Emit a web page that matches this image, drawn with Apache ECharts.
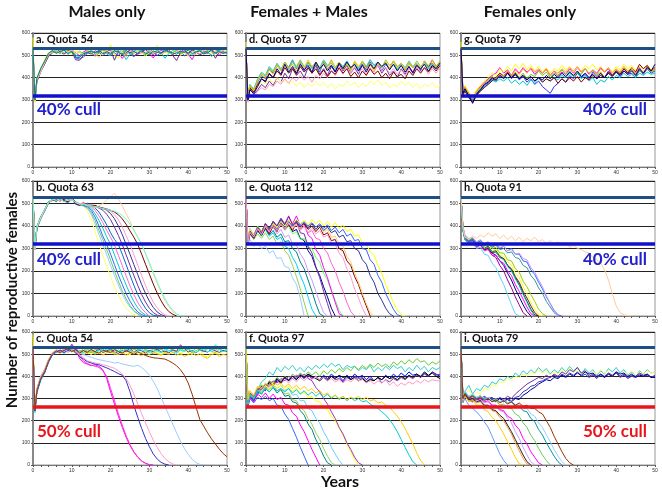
<!DOCTYPE html>
<html>
<head>
<meta charset="utf-8">
<script src="https://cdn.jsdelivr.net/npm/echarts@6/dist/echarts.min.js"></script>
<style>html,body{margin:0;padding:0;background:#fff;}#c{width:662px;height:490px;}</style>
</head>
<body>
<div id="c"></div>
<script>
const years = [0,0.5,1,2,3,4,5,6,7,8,9,10,11,12,13,14,15,16,17,18,19,20,21,22,23,24,25,26,27,28,29,30,31,32,33,34,35,36,37,38,39,40,41,42,43,44,45,46,47,48,49,50];
const xTicks = [0,10,20,30,40,50];
const yTicks = [0,100,200,300,400,500,600];
const columnTitles = ['Males only','Females + Males','Females only'];
const panelLabels = ['a. Quota 54','b. Quota 63','c. Quota 54','d. Quota 97','e. Quota 112','f. Quota 97','g. Quota 79','h. Quota 91','i. Quota 79'];
const upperLevel = 530;
const cullLevels = [319,319,263,319,319,263,319,319,263];
const cullTexts = ['40% cull','40% cull','50% cull','','','','40% cull','40% cull','50% cull'];
const yTitle = 'Number of reproductive females';
const xTitle = 'Years';

const seriesA = [
[530,300,395,435,470,505,515,522,510,526,514,530,488,484,492,508,521,506,518,511,524,536,510,500,516,523,507,494,512,521,504,526,516,500,511,529,518,504,513,521,497,510,526,514,507,521,512,504,519,523,509,515],
[530,295,385,425,462,500,520,512,528,506,519,524,511,498,515,526,509,500,517,530,512,503,522,515,486,510,527,518,505,514,531,509,488,516,524,511,519,502,521,515,528,506,481,511,522,517,509,526,513,500,518,512],
[580,290,400,440,478,512,508,524,515,531,518,505,520,512,498,519,527,510,505,522,514,548,500,488,509,520,516,503,525,512,497,510,521,545,506,515,508,522,517,499,512,527,510,504,520,540,514,505,519,510,524,513],
[530,305,392,438,470,498,514,520,506,525,512,520,500,495,510,515,523,508,512,526,505,498,516,522,510,481,505,519,527,512,503,518,510,525,513,487,508,521,515,506,522,512,500,516,527,509,518,495,511,522,515,508],
[530,298,380,430,460,495,510,528,515,505,522,516,480,478,500,512,506,520,514,498,517,525,478,519,503,511,522,496,508,517,525,511,504,520,509,515,527,500,476,512,519,508,523,515,502,511,520,526,487,515,520,509],
[530,302,388,432,466,503,519,511,522,508,527,513,505,518,509,520,512,496,510,524,517,506,521,511,527,502,515,509,520,514,506,523,511,517,504,520,513,509,525,510,516,503,519,512,521,507,524,515,510,518,512,520],
[530,296,390,428,468,507,512,526,509,520,515,523,508,513,504,517,525,510,489,515,520,512,527,508,516,493,519,511,522,507,514,526,509,518,505,513,520,508,517,523,511,496,518,514,509,520,527,513,498,516,521,511],
[530,300,398,442,474,510,522,509,517,524,505,518,492,490,506,514,519,511,523,507,516,509,520,513,505,521,512,517,508,524,510,503,519,514,508,522,516,511,505,519,513,524,508,515,520,506,512,523,510,517,509,514]
];
const colorsA = ['#3366ff','#ff00ff','#ffff00','#00cccc','#7030a0','#66cc33','#ffcc99','#008080'];

const seriesB = [
[530,300,395,440,472,508,518,512,525,515,508,530,505,498,490,465,430,375,320,270,220,175,130,92,60,35,18,7,0],
[530,296,390,436,468,504,520,510,522,514,506,518,500,495,488,478,452,410,362,318,272,225,180,138,98,65,40,20,8,0],
[530,302,398,442,470,506,515,521,509,524,512,516,502,497,490,482,460,425,380,340,295,248,200,155,112,76,46,24,10,0],
[530,298,392,438,466,502,522,514,519,510,504,520,498,500,492,486,470,440,400,355,318,275,228,182,140,100,66,38,18,6,0],
[530,300,385,430,465,500,517,508,526,513,509,522,505,496,499,490,478,455,425,390,352,318,272,226,180,138,98,64,36,16,5,0],
[530,294,388,434,470,506,519,512,520,508,515,528,503,495,502,492,485,470,445,415,380,350,315,270,224,178,134,95,60,34,15,0],
[530,301,396,441,473,509,514,518,511,523,507,519,496,491,500,495,488,480,462,435,405,370,340,318,275,228,182,136,96,62,34,14,3,0],
[530,299,390,437,469,505,516,524,513,520,510,526,500,494,503,497,490,486,480,470,452,428,395,358,318,272,226,180,136,96,62,34,15,4,0],
[530,303,394,439,471,507,513,519,527,511,516,521,507,499,493,501,495,488,485,478,470,455,432,400,362,318,274,228,184,140,100,66,38,18,6,0],
[530,297,389,435,467,503,521,515,510,524,509,517,503,498,506,490,497,489,482,479,472,465,450,428,396,358,318,272,226,180,136,96,62,36,17,6,0],
[530,300,392,440,470,506,517,511,523,516,508,522,501,493,500,495,488,492,484,480,476,470,462,450,432,408,378,350,318,275,230,186,142,102,68,40,20,8,0],
[530,298,393,437,471,505,515,522,510,526,512,520,504,496,500,492,487,480,490,500,515,530,545,520,490,455,420,385,350,318,275,232,188,145,105,70,42,20,7,0],
[530,301,396,441,474,508,518,513,521,509,517,515,506,500,494,497,490,486,483,478,475,470,466,458,446,430,408,380,350,318,278,236,194,152,112,78,48,26,10,2,0]
];
const colorsB = ['#ffff66','#99ccff','#66cc66','#3366ff','#00cccc','#ff66cc','#0066cc','#7030a0','#333399','#ff99cc','#800000','#ffcc99','#66ffcc'];

const seriesC = [
[530,240,330,392,420,468,500,512,506,520,515,525,510,518,505,522,512,500,516,524,509,518,527,511,504,520,515,530,512,506,521,514,500,518,526,510,515,522,508,519,512,524,505,516,520,511,528,513,507,522,515,519],
[590,255,340,398,428,472,503,509,518,506,522,512,525,504,515,510,498,512,520,505,516,509,500,514,522,508,497,511,518,503,515,509,520,506,498,512,504,518,511,500,514,507,498,512,521,493,488,505,512,498,516,508],
[530,262,345,402,432,476,506,520,511,524,513,530,518,510,525,514,506,522,517,509,526,515,520,511,529,518,507,523,514,532,519,510,526,515,522,508,530,517,512,525,516,521,509,527,518,512,524,533,519,528,514,522],
[530,248,335,388,415,466,498,515,508,521,512,545,520,509,516,505,519,511,524,507,515,522,510,503,518,512,526,508,520,515,505,517,511,523,509,514,506,519,513,542,525,510,517,506,520,514,509,522,515,508,517,512],
[530,235,325,380,418,462,496,508,515,503,519,510,526,512,507,521,514,506,518,509,523,516,505,519,512,527,510,503,517,522,511,508,520,514,506,523,517,510,504,519,512,525,514,508,518,522,510,516,543,520,511,518],
[530,250,338,395,425,470,502,511,504,517,508,519,503,512,498,507,515,500,510,496,506,513,502,498,509,495,504,511,500,493,506,498,510,502,495,505,499,508,496,503,490,498,507,494,502,488,481,497,505,490,499,494],
[530,245,332,390,422,467,499,513,507,519,511,520,535,480,462,455,448,452,445,430,390,330,275,220,170,125,88,58,35,18,8,2,0],
[530,252,340,394,426,470,503,510,518,506,522,540,515,490,470,458,450,446,440,425,400,345,290,232,180,132,92,60,36,18,7,0],
[530,258,342,400,430,474,505,516,510,522,514,526,512,498,484,470,465,460,458,452,448,442,436,425,410,390,360,320,275,232,190,150,112,80,52,30,14,5,0],
[530,244,330,386,418,465,497,510,519,508,516,524,505,490,478,466,460,455,452,445,438,430,422,412,405,380,330,268,215,165,120,82,50,27,12,4,0],
[530,250,336,393,424,469,500,512,506,520,510,523,515,505,498,492,486,480,475,472,468,465,460,462,456,452,448,445,450,440,425,405,378,345,305,265,225,185,145,108,75,48,26,11,3,0],
[530,246,334,391,421,468,501,514,508,517,524,512,520,505,516,509,522,511,504,518,513,507,520,512,505,515,509,498,510,502,494,488,484,482,480,478,470,460,448,430,405,370,320,262,205,175,145,118,95,72,52,37]
];
const colorsC = ['#33cccc','#ffff00','#99cc00','#7030a0','#00ffff','#ffc000','#ff00ff','#ff33cc','#ff99cc','#3333cc','#99ccff','#993300'];

const seriesD = [
[530,310,360,335,380,410,395,440,420,455,430,470,445,480,440,465,430,470,445,460,425,470,440,455,430,465,445,475,440,460,430,470,445,480,455,470,430,460,440,475,450,465,435,470,445,460,430,475,450,465,440,470],
[530,300,350,325,345,370,355,385,365,400,380,420,395,440,410,430,400,445,420,455,415,440,410,450,425,460,430,455,420,445,415,460,435,470,440,455,420,445,410,430,400,440,415,450,425,460,435,470,445,480,450,465],
[560,320,370,340,360,385,370,395,375,400,380,390,370,385,360,380,355,375,360,385,365,380,355,375,350,370,360,385,365,380,355,375,360,385,370,390,365,380,355,370,360,385,365,380,355,375,350,370,360,380,355,365],
[530,320,365,345,390,420,405,445,425,460,435,470,440,475,450,480,445,470,440,465,435,475,450,480,445,470,440,460,430,470,445,475,450,465,440,470,445,480,455,470,440,465,435,460,445,475,450,470,440,465,450,475],
[530,290,330,310,340,355,345,370,360,385,370,395,375,400,385,410,390,405,380,410,395,420,400,430,410,440,415,445,420,450,425,440,415,445,425,455,430,445,420,440,415,435,410,440,420,450,425,445,415,440,420,445],
[530,315,370,350,395,425,410,450,430,465,440,460,435,470,445,475,450,465,440,470,445,480,455,465,440,470,450,475,445,460,440,470,450,480,455,465,445,470,440,460,435,465,445,475,450,465,440,470,445,460,445,470],
[530,305,355,335,370,395,385,415,400,430,410,445,420,440,415,450,425,445,420,440,410,435,405,430,415,445,420,440,405,425,400,430,410,440,415,430,400,420,395,425,405,415,395,430,410,440,420,445,425,450,430,455],
[530,310,362,340,385,415,400,435,415,455,430,465,440,460,430,470,445,480,450,470,440,465,435,475,445,470,440,465,435,475,450,470,440,460,430,465,445,470,440,475,450,465,435,470,445,460,440,475,455,480,445,470],
[530,300,345,330,360,395,380,420,400,440,415,460,425,450,420,460,435,455,425,470,440,460,430,455,425,465,440,470,445,460,430,455,425,460,440,470,450,465,435,460,430,455,425,450,420,455,440,460,430,455,440,465]
];
const colorsD = ['#3366ff','#7030a0','#ffff66','#99cc00','#ff99cc','#33cccc','#800000','#ffc000','#000080'];

const seriesE = [
[530,320,340,310,325,300,310,280,290,255,260,220,215,170,140,80,0],
[530,330,370,340,365,345,370,340,355,320,330,290,270,225,175,120,60,0],
[530,335,380,350,375,360,385,355,370,340,350,310,300,260,230,180,140,85,30,0],
[530,325,365,345,380,355,390,360,380,350,365,330,335,300,285,240,210,160,110,55,10,0],
[530,340,390,360,395,370,400,375,395,365,385,350,360,320,315,275,250,200,160,110,60,15,0],
[530,330,375,355,390,365,405,380,410,385,420,390,410,375,385,345,335,290,265,215,180,130,85,35,0],
[530,335,385,360,400,375,410,385,415,390,410,380,400,365,375,340,345,305,300,260,240,190,160,110,70,25,0],
[530,325,370,350,385,365,395,370,405,380,410,385,420,395,415,385,400,370,380,345,340,300,280,235,200,150,110,60,20,0],
[530,330,380,360,395,370,410,385,420,395,430,405,440,410,445,400,410,360,345,295,270,215,170,115,60,10,0],
[530,320,365,345,380,360,390,365,400,375,410,385,405,380,415,390,410,385,400,375,395,360,370,335,340,300,290,245,225,175,140,90,45,0],
[530,335,375,355,390,370,400,380,410,385,415,390,420,395,410,390,415,395,410,385,400,370,385,350,355,320,310,265,240,190,150,100,55,15,0],
[530,330,380,355,395,375,410,390,420,400,430,405,425,400,420,395,415,390,410,385,405,380,395,370,380,350,360,330,335,300,290,250,230,180,150,100,70,35,10,0],
[530,325,370,350,385,365,400,380,405,385,415,395,420,400,425,405,420,400,415,395,410,390,405,380,395,370,385,355,365,335,340,300,295,250,230,180,150,100,65,30,5,0],
[530,340,385,360,395,375,405,385,410,395,420,400,425,405,430,410,425,405,430,410,425,400,420,395,415,390,405,375,385,355,360,325,320,285,270,225,190,140,100,60,25,5,0],
[530,330,375,355,395,370,410,385,420,400,435,410,445,405,420,370,365,310,280,220,170,110,55,0],
[530,328,372,352,388,362,398,375,402,380,408,382,412,388,405,380,398,372,390,365,380,350,360,325,320,280,260,210,175,120,80,35,0]
];
const colorsE = ['#99ccff','#92d050','#00ccff','#008080','#cc99ff','#000099','#66ff66','#ff66cc','#ff00ff','#800000','#ffcc66','#333399','#3366ff','#ffff00','#7030a0','#ff99cc'];

const seriesF = [
[530,280,320,300,340,375,390,420,405,440,420,445,430,450,425,440,420,445,430,450,435,455,440,460,445,455,430,450,440,445,425,440,430,450,420,440,425,445,430,450,435,445,420,440,425,450,430,445,420,440,430,440],
[530,300,330,310,345,360,350,380,370,395,380,400,385,410,395,415,400,420,405,420,400,425,410,430,415,435,420,440,425,445,430,450,435,455,440,460,445,455,440,465,450,470,455,475,460,480,465,470,450,465,455,470],
[530,270,310,290,320,345,335,365,355,380,370,395,380,400,385,405,390,410,395,400,385,405,390,410,395,400,380,405,390,410,395,405,385,400,380,395,385,405,390,410,395,415,400,420,405,410,395,415,400,420,410,400],
[530,275,315,300,330,350,345,370,360,385,375,395,385,400,390,410,395,405,390,400,385,395,380,400,385,390,375,395,385,400,390,395,375,390,380,395,370,385,375,390,380,395,385,400,390,405,395,410,400,420,405,410],
[530,285,320,305,335,355,340,375,360,390,370,395,380,400,385,405,395,410,400,390,380,395,385,400,390,405,395,400,385,395,380,390,375,385,380,395,385,400,390,395,385,400,390,405,395,410,400,420,405,415,400,390],
[530,290,325,305,330,350,340,365,355,375,365,385,370,390,375,395,380,395,385,400,385,395,380,390,375,385,370,385,375,390,380,385,370,380,365,380,370,385,360,375,355,370,360,375,365,380,370,385,375,385,380,380],
[530,260,300,280,305,295,310,290,300,270,265,230,205,165,125,80,40,0],
[530,265,305,285,320,305,325,300,320,295,305,275,270,235,220,180,150,110,70,35,0],
[530,270,310,295,330,320,345,330,350,325,340,310,315,285,280,245,225,185,160,115,80,40,10,0],
[530,275,315,300,335,325,350,340,360,335,345,320,325,295,290,260,245,210,185,145,115,75,40,10,0],
[530,280,320,305,340,330,355,345,365,345,360,335,345,315,320,290,290,255,245,210,190,150,120,80,50,20,0],
[530,290,330,310,350,335,360,340,365,345,360,340,355,330,345,320,330,305,310,290,285,260,250,220,200,165,135,95,60,25,0],
[530,285,325,310,345,340,365,355,380,370,390,380,400,390,405,395,410,390,380,350,330,300,275,240,210,170,140,100,70,35,10,0],
[530,280,320,300,335,320,345,330,350,335,345,330,345,325,340,320,335,315,330,310,325,305,320,300,315,295,310,290,305,290,300,285,290,275,265,255,240,225,205,180,150,115,80,45,15,0],
[530,295,335,315,355,345,370,355,375,360,370,350,365,345,360,340,355,335,345,325,335,315,325,305,315,300,310,295,305,300,310,295,305,290,295,280,285,270,260,240,220,195,165,130,95,55,20,0]
];
const colorsF = ['#33cccc','#66cc33','#0000ff','#7030a0','#000000','#ff99cc','#3366ff','#ff00ff','#008080','#99cc66','#66ccff','#ffff00','#9933cc','#00cccc','#ffcc00'];

const seriesG = [
[530,330,350,320,295,330,345,365,375,395,385,410,400,420,395,415,390,405,380,395,370,385,360,345,330,360,375,395,380,410,395,420,400,415,395,425,405,420,400,430,410,425,405,430,415,420,400,435,415,440,420,430],
[530,345,360,330,300,340,360,380,395,410,420,445,420,435,410,440,420,445,425,440,415,435,420,440,410,430,405,425,415,440,420,445,425,440,415,435,420,445,425,440,410,430,415,440,420,435,415,445,420,450,430,440],
[560,340,365,335,310,345,365,385,400,420,410,440,425,450,430,460,440,465,435,455,430,450,425,445,420,440,430,455,435,450,425,445,430,455,440,460,435,450,430,445,425,450,435,460,440,455,430,450,440,455,435,450],
[530,325,345,315,300,325,340,360,370,390,380,395,385,400,375,390,370,385,365,390,375,400,380,395,385,400,390,410,400,420,405,425,395,410,385,400,370,390,380,405,390,410,400,420,405,415,400,420,410,425,415,420],
[530,335,355,325,305,335,350,370,390,405,395,420,410,430,405,425,400,420,395,415,405,430,410,425,400,420,410,435,415,430,405,425,415,440,420,430,410,425,400,420,410,435,420,440,425,435,410,430,420,440,425,435],
[530,320,340,310,290,320,340,355,370,385,400,420,405,425,400,420,395,410,390,405,385,400,380,395,385,400,375,395,380,400,385,405,380,400,390,410,395,420,400,425,410,430,415,440,420,445,425,460,440,455,430,445],
[530,340,360,330,305,340,355,375,385,400,395,415,405,430,410,435,415,440,420,445,425,440,420,435,410,430,420,440,425,445,430,450,425,440,420,435,415,440,425,445,420,440,425,450,430,445,420,440,425,445,430,440],
[530,330,350,320,285,325,345,370,380,400,390,410,395,420,400,415,395,410,390,405,385,400,390,410,395,415,400,420,405,425,410,430,405,420,400,415,395,410,400,420,405,425,410,430,415,430,410,440,420,445,430,460]
];
const colorsG = ['#3333ff','#ff00ff','#ffff00','#00cccc','#66cc00','#800000','#ff9933','#000080'];

const seriesH = [
[530,390,340,320,325,300,305,275,270,235,215,175,140,95,50,10,0],
[530,385,345,330,335,310,315,295,300,270,260,225,200,160,125,85,50,15,0],
[530,395,350,335,340,320,325,300,305,280,270,245,225,190,160,120,85,50,20,0],
[530,380,340,325,330,310,320,295,300,280,285,260,255,225,205,170,140,100,65,30,5,0],
[530,400,355,340,345,325,330,305,315,290,295,270,265,240,225,190,170,130,100,60,30,5,0],
[530,390,345,330,335,305,315,290,295,270,270,245,235,200,180,140,110,75,40,10,0],
[530,385,350,335,340,315,325,300,310,285,290,265,255,225,210,175,150,110,80,45,15,0],
[530,395,355,340,345,325,335,310,320,300,305,280,280,250,245,210,195,155,130,95,65,30,10,0],
[530,390,350,335,345,325,335,315,325,305,315,295,300,280,285,260,255,225,215,180,160,125,100,65,40,15,0],
[530,385,345,330,340,320,335,315,330,310,320,300,310,290,300,275,275,245,240,205,185,150,120,85,55,25,5,0],
[530,400,360,345,350,330,340,320,330,310,320,305,310,290,295,275,280,255,250,215,195,160,130,90,55,20,0],
[530,380,340,325,330,310,320,300,305,285,285,260,250,220,200,165,135,95,60,25,0],
[530,390,350,340,355,345,360,350,370,355,365,345,360,340,355,335,350,330,345,335,350,330,340,320,335,320,330,315,325,305,315,300,295,285,280,260,250,235,205,160,100,45,15,5,2,0]
];
const colorsH = ['#66ccff','#990099','#000080','#800000','#ffff00','#ff00ff','#333333','#99cc00','#339999','#3366ff','#cc99ff','#00cccc','#ffcc99'];

const seriesI = [
[530,300,330,360,320,345,335,360,350,375,365,390,380,400,390,415,400,425,410,430,415,440,420,435,410,430,415,440,420,445,425,440,410,435,415,430,405,425,410,435,420,440,415,430,405,420,400,425,410,430,415,420],
[530,310,320,340,310,330,320,345,340,360,355,375,370,390,380,400,395,410,400,420,410,430,415,425,405,420,410,430,415,435,420,430,410,425,405,420,410,430,415,425,400,415,405,420,410,425,405,420,410,425,415,420],
[530,290,310,300,290,305,295,310,300,305,290,300,285,300,290,305,310,330,340,355,360,375,380,390,395,405,395,410,400,415,405,420,400,410,395,405,390,410,400,415,405,420,400,410,395,405,400,415,405,410,395,400],
[530,295,315,305,295,300,290,305,295,300,290,305,295,310,300,320,335,350,365,375,385,395,390,405,395,410,400,420,410,430,420,440,415,425,400,410,395,405,395,410,400,415,395,405,390,400,395,410,400,405,395,405],
[530,285,305,295,285,300,290,300,295,295,285,300,290,295,285,300,295,315,325,340,350,365,375,385,380,395,390,405,395,410,400,415,405,420,410,415,400,410,395,410,400,420,410,415,400,410,395,405,400,410,395,395],
[530,280,300,270,255,240,220,195,170,130,90,50,20,0],
[530,290,310,285,290,270,270,250,240,215,200,170,140,105,70,35,5,0],
[530,300,315,290,295,280,285,265,265,245,240,215,200,170,140,100,65,30,5,0],
[530,295,320,300,305,290,295,280,285,265,265,245,240,210,190,150,120,80,45,15,0],
[530,305,320,295,300,285,290,270,270,250,245,225,210,180,150,115,80,45,15,0],
[530,300,325,305,310,295,300,285,290,270,270,250,245,220,210,180,160,120,95,60,35,10,0],
[530,310,330,310,315,300,310,295,300,285,290,270,275,255,255,230,220,190,170,135,110,75,45,20,0],
[530,305,325,305,315,300,310,295,305,290,300,285,295,280,285,265,265,245,240,210,195,160,135,100,70,40,15,0],
[530,315,335,310,320,305,315,300,305,290,300,285,295,280,290,270,275,255,255,230,220,190,170,135,105,70,40,15,0],
[530,300,320,300,310,295,305,290,300,285,295,280,290,275,285,270,280,265,270,255,255,240,230,200,170,130,95,60,30,10,0]
];
const colorsI = ['#33cccc','#ffff66','#3333cc','#7030a0','#000099','#6699ff','#ffcc00','#ff9933','#cc99ff','#222222','#ff00ff','#66cc66','#009999','#99ccff','#993300'];

const panelSeries = [seriesA, seriesB, seriesC, seriesD, seriesE, seriesF, seriesG, seriesH, seriesI];
const panelColors = [colorsA, colorsB, colorsC, colorsD, colorsE, colorsF, colorsG, colorsH, colorsI];

// layout
const colLeft = [33, 246, 461];
const rowTop = [33, 181, 332];
const rowH = [134, 135, 133];
const plotW = 194;

const grids = [], xAxes = [], yAxes = [], series = [], titles = [], graphics = [];
for (let p = 0; p < 9; p++) {
  const col = Math.floor(p / 3), row = p % 3;
  grids.push({left: colLeft[col], top: rowTop[row], width: plotW, height: rowH[row], show: true, borderColor: '#999', borderWidth: 1, backgroundColor: '#fff'});
  xAxes.push({type: 'value', gridIndex: p, min: xTicks[0], max: xTicks[xTicks.length-1], interval: 10,
    axisLine: {show: true, onZero: false, lineStyle: {color: '#777', width: 1}},
    axisTick: {show: true, length: 2, lineStyle: {color: '#555'}},
    minorTick: {show: true, splitNumber: 5, length: 2, lineStyle: {color: '#555'}},
    axisLabel: {fontSize: 5, color: '#333', margin: 3, fontFamily: 'Liberation Sans'},
    splitLine: {show: false}});
  yAxes.push({type: 'value', gridIndex: p, min: yTicks[0], max: yTicks[yTicks.length-1], interval: 100,
    axisLine: {show: true, lineStyle: {color: '#888', width: 2}},
    axisTick: {show: true, length: 2, lineStyle: {color: '#555'}},
    axisLabel: {fontSize: 5, color: '#333', margin: 3, fontFamily: 'Liberation Sans'},
    splitLine: {show: true, lineStyle: {color: '#222', width: 1}}});
  const sList = panelSeries[p], cList = panelColors[p];
  const cullColor = row === 2 ? '#e8151b' : '#1111cc';
  sList.forEach((vals, k) => {
    const s = {type: 'line', xAxisIndex: p, yAxisIndex: p, showSymbol: false, symbol: 'none',
      lineStyle: {width: 1, color: cList[k % cList.length]}, itemStyle: {color: cList[k % cList.length]},
      data: vals.slice(0, years.length).map((v, i) => [years[i], v]), z: 2, silent: true};
    if (k === 0) {
      s.markLine = {silent: true, symbol: ['none','none'], label: {show: false}, animation: false, z: 5,
        data: [
          {yAxis: upperLevel, lineStyle: {color: '#1f4e87', width: 3, type: 'solid'}},
          {yAxis: cullLevels[p], lineStyle: {color: cullColor, width: 3.5, type: 'solid'}}
        ]};
    }
    series.push(s);
  });
  titles.push({text: panelLabels[p], left: colLeft[col] + 3, top: rowTop[row] + 1,
    textStyle: {fontSize: 11, fontWeight: 'bold', color: '#111', fontFamily: 'Lato'}, padding: 0});
  if (cullTexts[p]) {
    const left = col === 0 ? colLeft[col] + 4 : colLeft[col] + 122;
    const top = row === 0 ? 101 : (row === 1 ? 251 : 423);
    graphics.push({type: 'text', left: left, top: top, z: 100,
      style: {text: cullTexts[p], fill: row === 2 ? '#e8151b' : '#2222cc', font: 'bold 17px Lato'}});
  }
}
const headerX = [107, 309, 530];
columnTitles.forEach((t, i) => {
  graphics.push({type: 'text', x: headerX[i], y: 12, z: 100,
    style: {text: t, fill: '#111', font: 'bold 16px Lato', textAlign: 'center', textVerticalAlign: 'middle'}});
});
graphics.push({type: 'text', x: 340, y: 482, z: 100,
  style: {text: xTitle, fill: '#111', font: 'bold 16px Lato', textAlign: 'center', textVerticalAlign: 'middle'}});
graphics.push({type: 'text', x: 12, y: 300, rotation: Math.PI / 2, z: 100,
  style: {text: yTitle, fill: '#111', font: 'bold 15px Lato', textAlign: 'center', textVerticalAlign: 'middle'}});

const chart = echarts.init(document.getElementById('c'), null, {renderer: 'canvas'});
chart.setOption({
  animation: false,
  backgroundColor: '#fff',
  title: titles,
  grid: grids,
  xAxis: xAxes,
  yAxis: yAxes,
  series: series,
  graphic: graphics
});
</script>
</body>
</html>
